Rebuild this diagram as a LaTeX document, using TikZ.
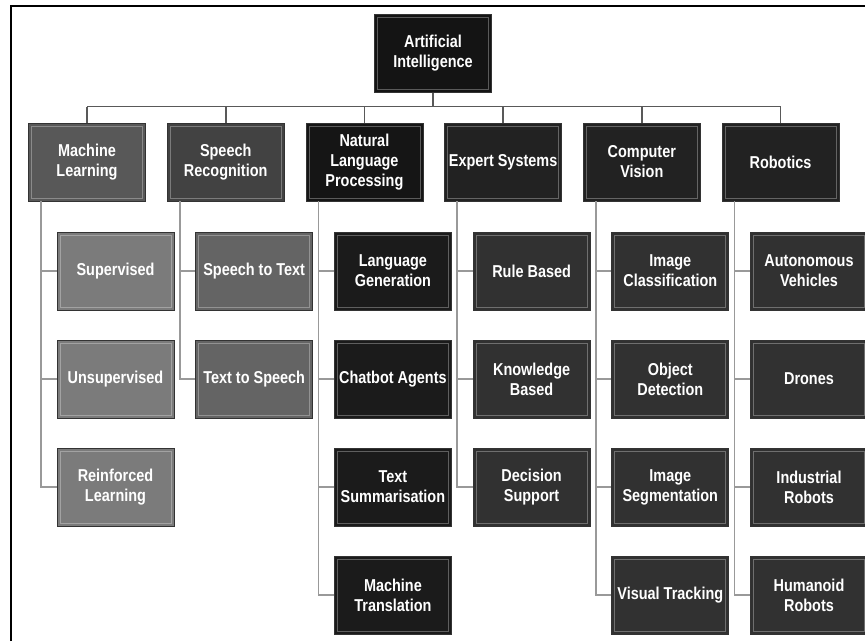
\documentclass[tikz,border=0pt]{standalone}
\usepackage{fontspec}
\newfontfamily\boxfont{Liberation Sans}[FakeStretch=0.84]
\usetikzlibrary{positioning}

\definecolor{aicol}{HTML}{141414}
\definecolor{mlcol}{HTML}{585858}
\definecolor{mlkid}{HTML}{7B7B7B}
\definecolor{srcol}{HTML}{424242}
\definecolor{srkid}{HTML}{646464}
\definecolor{nlpcol}{HTML}{151515}
\definecolor{nlpkid}{HTML}{1B1B1B}
\definecolor{escol}{HTML}{222222}
\definecolor{eskid}{HTML}{313131}

\tikzset{
	box/.style={rectangle, fill=#1, draw=black!80, line width=0.8pt,
		minimum width=117pt, minimum height=78pt, inner sep=1pt,
		align=center, text=white,
		font=\fontsize{17.2}{20}\selectfont\boxfont\bfseries,
		path picture={\draw[white, opacity=0.3, line width=0.7pt]
			([shift={(3pt,-3pt)}]path picture bounding box.north west) rectangle
			([shift={(-3pt,3pt)}]path picture bounding box.south east);}},
	busline/.style={draw=black!65, line width=1.6pt},
	kidline/.style={draw=black!40, line width=1.6pt}
}

\begin{document}
\begin{tikzpicture}[x=1pt,y=-1pt]
	\useasboundingbox (0,0) rectangle (865,641);
	% frame
	\draw[line width=2pt] (11,641) -- (11,6) -- (865,6);

	\node[box=aicol] (ai) at (433,53.5) {Artificial\\Intelligence};

	% first level
	\foreach \n/\f/\t [count=\k from 0] in {
		ml/mlcol/{Machine\\Learning},
		sr/srcol/{Speech\\Recognition},
		nlp/nlpcol/{Natural\\Language\\Processing},
		es/escol/{Expert Systems},
		cv/escol/{Computer\\Vision},
		rob/escol/Robotics}{
		\node[box=\f] (\n) at (87+138.7*\k,162) {\t};
		\draw[busline] (\n.north) -- ++(0,-16);
	}
	\draw[busline] (ml.north) ++(0,-16) -| (rob.north);
	\draw[busline] (ai.south) -- ++(0,14);

	% second level
	\foreach \p/\f/\items in {
		ml/mlkid/{Supervised,Unsupervised,{Reinforced\\Learning}},
		sr/srkid/{Speech to Text,Text to Speech},
		nlp/nlpkid/{{Language\\Generation},Chatbot Agents,{Text\\Summarisation},{Machine\\Translation}},
		es/eskid/{Rule Based,{Knowledge\\Based},{Decision\\Support}},
		cv/eskid/{{Image\\Classification},{Object\\Detection},{Image\\Segmentation},Visual Tracking},
		rob/eskid/{{Autonomous\\Vehicles},Drones,{Industrial\\Robots},{Humanoid\\Robots}}}{
		\foreach \t [count=\i] in \items {
			\node[box=\f] (\p\i) at ([shift={(28.5,1+108*\i)}]\p.center) {\t};
			\draw[kidline] ([xshift=-46pt]\p.south) |- (\p\i.west);
		}
	}
\end{tikzpicture}
\end{document}
